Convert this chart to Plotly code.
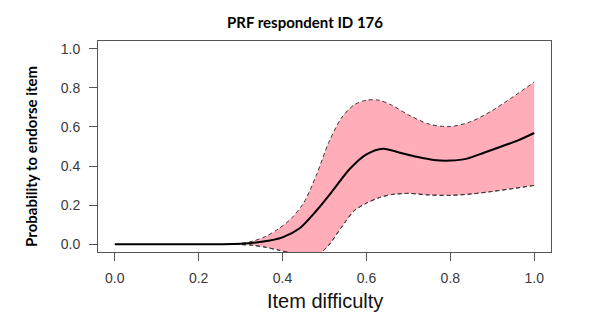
import plotly.graph_objects as go

# Mean person response function and its confidence band
difficulty = [0.0, 0.25, 0.30, 0.35, 0.40, 0.44, 0.48, 0.52, 0.56, 0.60, 0.64,
              0.68, 0.72, 0.76, 0.80, 0.84, 0.88, 0.92, 0.96, 1.00]
prob_mean = [0.0, 0.0, 0.002, 0.012, 0.035, 0.08, 0.17, 0.275, 0.385, 0.46, 0.489,
             0.468, 0.447, 0.431, 0.428, 0.438, 0.468, 0.499, 0.530, 0.569]

band_x = [0.27, 0.30, 0.33, 0.36, 0.39, 0.42, 0.45, 0.48, 0.51, 0.54, 0.57,
          0.60, 0.63, 0.66, 0.70, 0.75, 0.80, 0.85, 0.90, 0.95, 1.00]
band_upper = [0.0, 0.004, 0.016, 0.04, 0.078, 0.13, 0.21, 0.35, 0.52, 0.645, 0.712,
              0.737, 0.737, 0.712, 0.662, 0.614, 0.602, 0.628, 0.684, 0.755, 0.83]
band_lower = [0.0, -0.002, -0.006, -0.016, -0.03, -0.045, -0.058, -0.06, -0.005, 0.085, 0.17,
              0.21, 0.238, 0.254, 0.26, 0.252, 0.25, 0.257, 0.27, 0.285, 0.301]

tick_vals = [0.0, 0.2, 0.4, 0.6, 0.8, 1.0]
tick_text = ["0.0", "0.2", "0.4", "0.6", "0.8", "1.0"]

PINK = "rgb(255,174,185)"
DASH_COL = "#3a3a3a"
AXIS_COL = "#555555"
DASH_STYLE = "4px,3px"

fig = go.Figure()
fig.add_trace(go.Scatter(
    x=band_x, y=band_lower, mode="lines",
    line=dict(color=DASH_COL, width=1, dash=DASH_STYLE, shape="spline", smoothing=0.8),
    hoverinfo="skip", showlegend=False))
fig.add_trace(go.Scatter(
    x=band_x, y=band_upper, mode="lines", fill="tonexty", fillcolor=PINK,
    line=dict(color=DASH_COL, width=1, dash=DASH_STYLE, shape="spline", smoothing=0.8),
    hoverinfo="skip", showlegend=False))
# redraw lower dashes on top of the fill
fig.add_trace(go.Scatter(
    x=band_x, y=band_lower, mode="lines",
    line=dict(color=DASH_COL, width=1, dash=DASH_STYLE, shape="spline", smoothing=0.8),
    hoverinfo="skip", showlegend=False))
fig.add_trace(go.Scatter(
    x=difficulty, y=prob_mean, mode="lines",
    line=dict(color="black", width=2, shape="spline", smoothing=0.8),
    showlegend=False))

axis_common = dict(
    showgrid=False, zeroline=False,
    showline=True, mirror=True, linecolor=AXIS_COL, linewidth=1,
    ticks="outside", ticklen=8, tickwidth=1, tickcolor=AXIS_COL,
    tickvals=tick_vals, ticktext=tick_text,
    tickfont=dict(family="Liberation Sans, Arial", size=14, color="#3a3a3a"),
    range=[-0.04, 1.04],
)

plot_l, plot_r, plot_t, plot_b = 98, 48.5, 40.5, 84.2
plot_w = 600 - plot_l - plot_r
plot_h = 336 - plot_t - plot_b

fig.update_layout(
    width=600, height=336,
    margin=dict(l=plot_l, r=plot_r, t=plot_t, b=plot_b),
    paper_bgcolor="white", plot_bgcolor="white",
    xaxis=dict(axis_common, ticklabelstandoff=5),
    yaxis=dict(axis_common, ticklabelstandoff=6),
    title=dict(text="<b>PRF respondent ID 176</b>", x=305 / 600, y=1 - 23 / 336,
               xanchor="center", yanchor="middle",
               font=dict(family="Lato", size=15, color="black")),
    annotations=[
        dict(text="<b>Probability to endorse item</b>", textangle=-90,
             xref="paper", yref="paper",
             x=(31.5 - plot_l) / plot_w, y=(336 - plot_b - 156) / plot_h,
             xanchor="center", yanchor="middle", showarrow=False,
             font=dict(family="Lato", size=15, color="black")),
        dict(text="Item difficulty",
             xref="paper", yref="paper",
             x=(325 - plot_l) / plot_w, y=(336 - plot_b - 301) / plot_h,
             xanchor="center", yanchor="middle", showarrow=False,
             font=dict(family="Liberation Sans, Arial", size=20, color="#111111")),
    ],
)

fig.write_html("out.html")
